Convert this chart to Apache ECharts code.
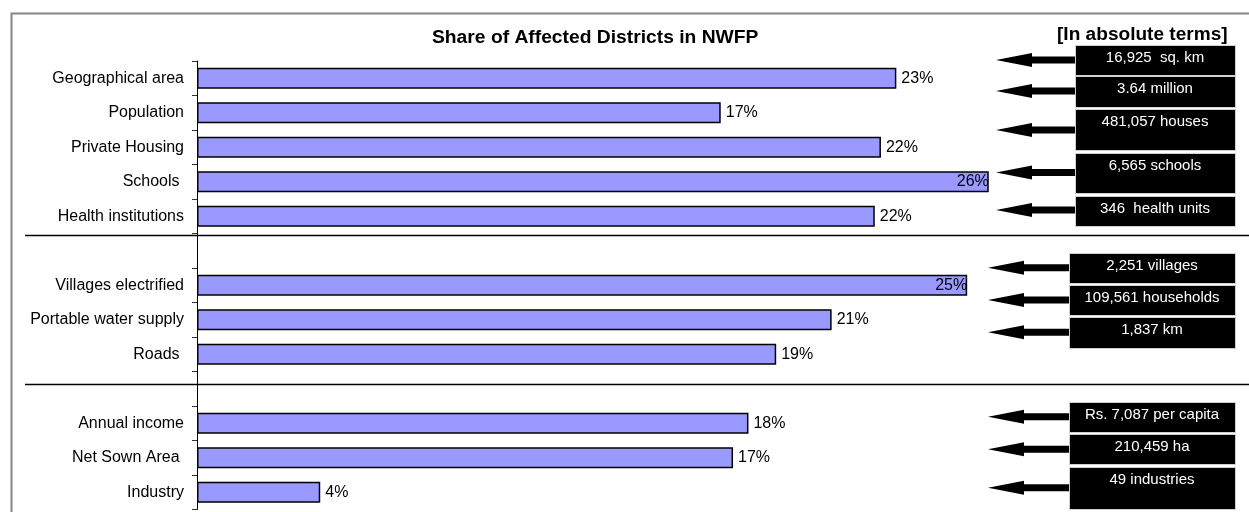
<!DOCTYPE html>
<html>
<head>
<meta charset="utf-8">
<script src="https://cdn.jsdelivr.net/npm/echarts@6/dist/echarts.min.js"></script>
<style>
  html, body { margin: 0; padding: 0; background: #fff; }
  #main { width: 1249px; height: 512px; }
</style>
</head>
<body>
<div id="main"></div>
<script>
var chartDom = document.getElementById('main');
var myChart = echarts.init(chartDom);
var option;

const FONT = '"Liberation Sans", Arial, sans-serif';

// rows of the chart, top to bottom ('' and ' ' are the empty gap rows)
const categories = [
  'Geographical area', 'Population', 'Private Housing', 'Schools ', 'Health institutions',
  '',
  'Villages electrified', 'Portable water supply', 'Roads ',
  ' ',
  'Annual income', 'Net Sown Area ', 'Industry'
];
// share of affected districts, percent (null = gap row)
const shares = [22.7, 17.0, 22.2, 25.7, 22.0, null, 25.0, 20.6, 18.8, null, 17.9, 17.4, 4.0];

// the black boxes on the right
const absoluteTerms = [
  '16,925  sq. km', '3.64 million', '481,057 houses', '6,565 schools', '346  health units',
  '2,251 villages', '109,561 households', '1,837 km',
  'Rs. 7,087 per capita', '210,459 ha', '49 industries'
];

// where the boxes sit, in row units of the category axis (0 = top of first row)
const boxTopRows    = [-0.46, 0.44, 1.39, 2.66, 3.91, 5.57, 6.49, 7.43, 9.89, 10.82, 11.76];
const boxBottomRows = [ 0.41, 1.34, 2.58, 3.82, 4.77, 6.43, 7.36, 8.31, 10.76, 11.68, 12.99];
const arrowRows     = [-0.03, 0.87, 2.00, 3.23, 4.32, 5.99, 6.93, 7.86, 10.31, 11.25, 12.37];
const separatorRows = [5.04, 9.37];

const AXIS_MAX = 26;

// annotation panel x layout (px)
const noteX = [
  { tip: 996, head: 1032, box: 1075, right: 1235 },
  { tip: 988, head: 1024, box: 1069, right: 1235 }
];

function rowToY(api, r) {
  const band = api.size([0, 1])[1];
  const top0 = api.coord([0, 0])[1] - band / 2;
  return top0 + r * band;
}

function renderNote(params, api) {
  const k = api.value(2);
  const L = noteX[k < 5 ? 0 : 1];
  const y = rowToY(api, arrowRows[k]);
  const yt = Math.round(rowToY(api, boxTopRows[k]));
  const yb = Math.round(rowToY(api, boxBottomRows[k]));
  const hh = 7, sh = 3.5;
  return {
    type: 'group',
    children: [
      {
        type: 'polygon',
        shape: { points: [[L.tip, y], [L.head, y - hh], [L.head, y - sh], [L.box, y - sh],
                          [L.box, y + sh], [L.head, y + sh], [L.head, y + hh]] },
        style: { fill: '#000' }
      },
      {
        type: 'rect',
        shape: { x: L.box + 0.5, y: yt + 0.5, width: L.right - L.box, height: yb - yt },
        style: { fill: '#000', stroke: '#d0d0d0', lineWidth: 1 }
      },
      {
        type: 'text',
        x: (L.box + L.right) / 2,
        y: yt + 13,
        style: { text: absoluteTerms[k], fill: '#fff', font: '15px ' + FONT,
                 align: 'center', verticalAlign: 'middle' }
      }
    ]
  };
}

function renderSeparator(params, api) {
  const y = Math.round(rowToY(api, api.value(2))) + 0.5;
  return {
    type: 'line',
    shape: { x1: 25, y1: y, x2: api.getWidth(), y2: y },
    style: { stroke: '#000', lineWidth: 1.5 }
  };
}

function barData() {
  return shares.map(v => {
    if (v == null) return '-';
    const inside = v / AXIS_MAX > 0.94;
    return {
      value: v,
      label: inside ? { position: 'insideRight', distance: 0 } : { position: 'right', distance: 5 }
    };
  });
}

option = {
  animation: false,
  backgroundColor: '#fff',
  graphic: [
    {
      type: 'rect',
      shape: { x: 11.5, y: 13.5, width: 1400, height: 700 },
      style: { fill: null, stroke: '#868686', lineWidth: 2 },
      silent: true
    },
    {
      type: 'text',
      x: 432, y: 38, scaleX: 1.07,
      style: { text: 'Share of Affected Districts in NWFP', fill: '#000',
               font: 'bold 18px ' + FONT, align: 'left', verticalAlign: 'middle' },
      silent: true
    },
    {
      type: 'text',
      x: 1057, y: 35, scaleX: 1.06,
      style: { text: '[In absolute terms]', fill: '#000',
               font: 'bold 18px ' + FONT, align: 'left', verticalAlign: 'middle' },
      silent: true
    }
  ],
  grid: { left: 197, right: 251, top: 61, bottom: 2.5, containLabel: false },
  xAxis: {
    type: 'value', min: 0, max: AXIS_MAX, show: false
  },
  yAxis: {
    type: 'category',
    inverse: true,
    data: categories,
    axisLine: { show: true, lineStyle: { color: '#000', width: 1 } },
    axisTick: { show: true, interval: 0, inside: false, length: 5, lineStyle: { color: '#333', width: 1 } },
    axisLabel: { color: '#000', fontSize: 16, margin: 13, fontFamily: FONT, interval: 0 }
  },
  series: [
    {
      name: 'Share',
      type: 'bar',
      data: barData(),
      barWidth: 21,
      itemStyle: { color: '#9999ff', borderColor: '#000', borderWidth: 1.5 },
      label: {
        show: true, color: '#000', fontSize: 16, fontFamily: FONT,
        formatter: p => Math.round(p.value) + '%'
      }
    },
    {
      name: 'separators',
      type: 'custom',
      renderItem: renderSeparator,
      data: separatorRows.map(r => [0, 0, r]),
      clip: false, silent: true, z: 3
    },
    {
      name: 'absolute terms',
      type: 'custom',
      renderItem: renderNote,
      data: absoluteTerms.map((t, i) => [0, 0, i]),
      clip: false, silent: true, z: 4
    }
  ]
};

option && myChart.setOption(option);
</script>
</body>
</html>
